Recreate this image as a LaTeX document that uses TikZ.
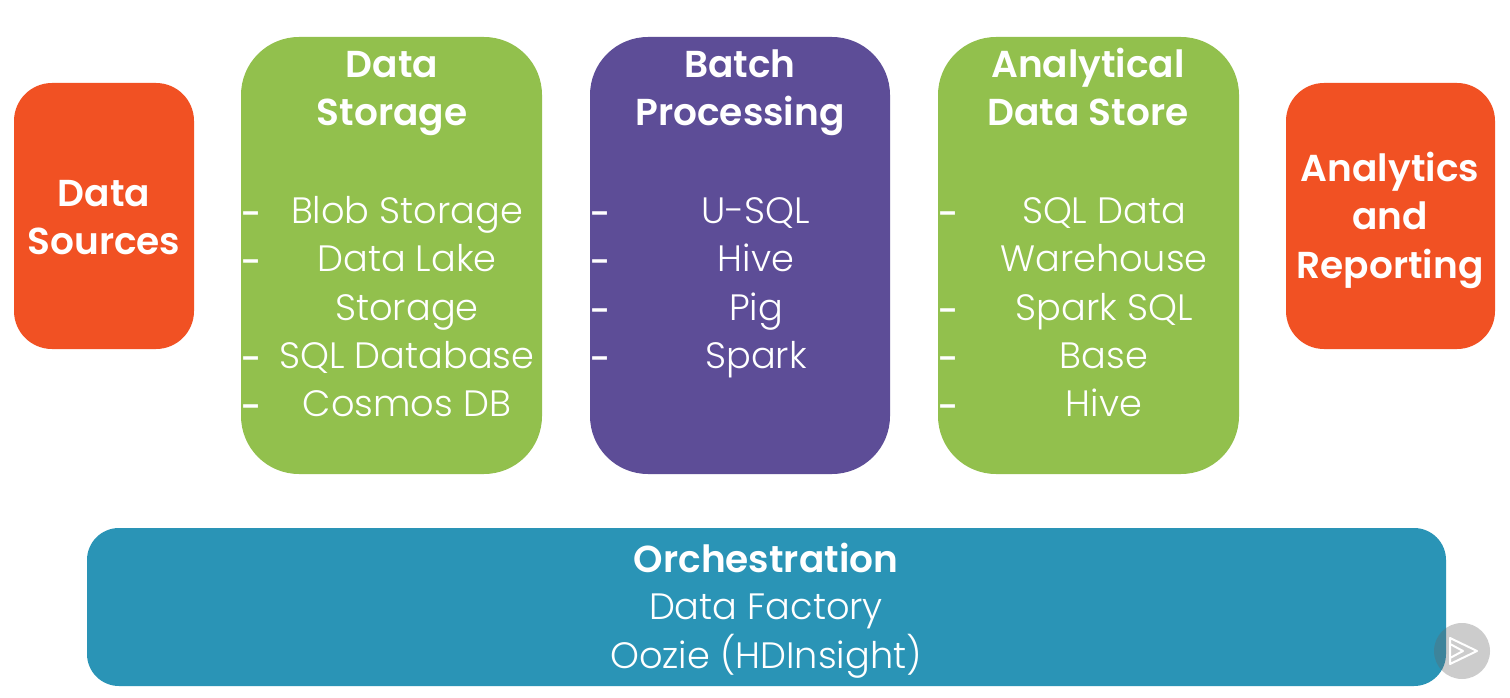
\documentclass[tikz,border=0pt]{standalone}
\usepackage{fontspec}
\setmainfont{Poppins}[UprightFont=* Light,BoldFont=* SemiBold]
\newfontfamily\dashfont{Poppins Medium}
\definecolor{orangeB}{HTML}{F15123}
\definecolor{greenB}{HTML}{92C04D}
\definecolor{purpleB}{HTML}{5D4D97}
\definecolor{tealB}{HTML}{2A94B6}
\tikzset{x=1pt,y=-1pt,
 head/.style={text=white,anchor=base,inner sep=0pt,font=\fontsize{37.5}{37.5}\selectfont\bfseries},
 item/.style={text=white,anchor=base,inner sep=0pt,yshift=1pt,font=\fontsize{36.7}{36.7}\selectfont},
 dashmark/.style={text=white,anchor=base,inner sep=0pt,yshift=-2pt,font=\fontsize{36}{36}\dashfont}}
\begin{document}
\begin{tikzpicture}
\useasboundingbox (0,0) rectangle (1510,698);
\fill[white] (0,0) rectangle (1510,698);
\fill[orangeB,rounded corners=38pt] (14,83) rectangle (194,349);
\fill[greenB,rounded corners=58pt] (241,37) rectangle (542,474);
\fill[purpleB,rounded corners=58pt] (590,37) rectangle (890,474);
\fill[greenB,rounded corners=58pt] (938,37) rectangle (1239,474);
\fill[orangeB,rounded corners=38pt] (1286,83) rectangle (1495,349);
\fill[tealB,rounded corners=32pt] (87,528) rectangle (1446,686);
\fill[black!60,opacity=.33] (1462,651) circle (28);
\draw[white,line width=2pt,line join=round] (1450,638) -- (1477,651) -- (1450,664) -- cycle;
\draw[white,line width=2pt,line join=round] (1450,644) -- (1463,651) -- (1450,658);
% Data Sources
\node[head] (ds1) at (104,206) {Data};
\node[head] (ds2) at (104,254) {Sources};
% Data Storage
\node[head] (st1) at (392,78) {Data};
\node[head] (st2) at (392,126) {Storage};
\node[dashmark] (std1) at (251,224) {-};
\node[dashmark] (std2) at (251,272) {-};
\node[dashmark] (std3) at (251,369) {-};
\node[dashmark] (std4) at (251,417) {-};
\node[item] (sti1) at (407,224) {Blob Storage};
\node[item] (sti2) at (407,272) {Data Lake};
\node[item] (sti3) at (407,321) {Storage};
\node[item] (sti4) at (407,369) {SQL Database};
\node[item] (sti5) at (407,417) {Cosmos DB};
% Batch
\node[head] (ba1) at (740,78) {Batch};
\node[head] (ba2) at (740,126) {Processing};
\node[dashmark] (bad1) at (600,224) {-};
\node[dashmark] (bad2) at (600,272) {-};
\node[dashmark] (bad3) at (600,321) {-};
\node[dashmark] (bad4) at (600,369) {-};
\node[item] (bai1) at (756,224) {U-SQL};
\node[item] (bai2) at (756,272) {Hive};
\node[item] (bai3) at (756,321) {Pig};
\node[item] (bai4) at (756,369) {Spark};
% Analytical
\node[head] (an1) at (1088,78) {Analytical};
\node[head] (an2) at (1088,126) {Data Store};
\node[dashmark] (and1) at (948,224) {-};
\node[dashmark] (and2) at (948,321) {-};
\node[dashmark] (and3) at (948,369) {-};
\node[dashmark] (and4) at (948,417) {-};
\node[item] (ani1) at (1104,224) {SQL Data};
\node[item] (ani2) at (1104,272) {Warehouse};
\node[item] (ani3) at (1104,321) {Spark SQL};
\node[item] (ani4) at (1104,369) {Base};
\node[item] (ani5) at (1104,417) {Hive};
% Analytics
\node[head] (re1) at (1390,181) {Analytics};
\node[head] (re2) at (1390,229) {and};
\node[head] (re3) at (1390,278) {Reporting};
% Orchestration
\node[head] (or1) at (766,572) {Orchestration};
\node[item] (or2) at (766,620) {Data Factory};
\node[item] (or3) at (766,669) {Oozie (HDInsight)};
\end{tikzpicture}
\end{document}
